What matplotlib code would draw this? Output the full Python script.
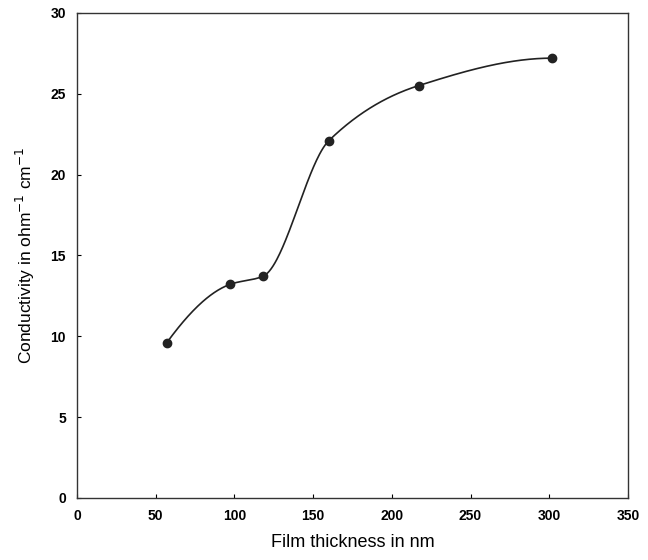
import numpy as np
import matplotlib.pyplot as plt

thickness = [57, 97, 118, 160, 217, 302]
conductivity = [9.6, 13.2, 13.7, 22.1, 25.5, 27.2]


def pchip(x, y, n=400):
    # monotone cubic (Fritsch-Carlson) so the curve does not overshoot
    x = np.asarray(x, float)
    y = np.asarray(y, float)
    h = np.diff(x)
    d = np.diff(y) / h
    m = np.zeros(len(x))
    for i in range(1, len(x) - 1):
        if d[i - 1] * d[i] > 0:
            w1 = 2 * h[i] + h[i - 1]
            w2 = h[i] + 2 * h[i - 1]
            m[i] = (w1 + w2) / (w1 / d[i - 1] + w2 / d[i])
    m[0] = ((2 * h[0] + h[1]) * d[0] - h[0] * d[1]) / (h[0] + h[1])
    m[-1] = ((2 * h[-1] + h[-2]) * d[-1] - h[-1] * d[-2]) / (h[-1] + h[-2])
    if m[0] * d[0] < 0:
        m[0] = 0
    if m[-1] * d[-1] < 0:
        m[-1] = 0
    xs = np.linspace(x[0], x[-1], n)
    ys = np.empty_like(xs)
    for j, xv in enumerate(xs):
        i = min(np.searchsorted(x, xv, side='right') - 1, len(x) - 2)
        t = (xv - x[i]) / h[i]
        h00 = 2 * t ** 3 - 3 * t ** 2 + 1
        h10 = t ** 3 - 2 * t ** 2 + t
        h01 = -2 * t ** 3 + 3 * t ** 2
        h11 = t ** 3 - t ** 2
        ys[j] = h00 * y[i] + h10 * h[i] * m[i] + h01 * y[i + 1] + h11 * h[i] * m[i + 1]
    return xs, ys


plt.rcParams['font.family'] = ['Liberation Sans', 'DejaVu Sans']

fig = plt.figure(figsize=(6.48, 5.6), dpi=100)
ax = fig.add_axes([0.119, 0.111, 0.850, 0.866])

xs, ys = pchip(thickness, conductivity)
ax.plot(xs, ys, color='#222222', lw=1.2)
ax.plot(thickness, conductivity, 'o', color='#222222', ms=6)

ax.set_xlim(0, 350)
ax.set_ylim(0, 30)
ax.set_xticks(range(0, 351, 50))
ax.set_yticks(range(0, 31, 5))
ax.tick_params(direction='in', length=3, labelsize=10, pad=8)
for lab in ax.get_xticklabels() + ax.get_yticklabels():
    lab.set_fontweight('bold')
for s in ax.spines.values():
    s.set_linewidth(1.0)
    s.set_color('#333333')

ax.set_xlabel('Film thickness in nm', fontsize=13, labelpad=8)
ax.set_ylabel('Conductivity in ohm$^{-1}$ cm$^{-1}$', fontsize=12.5, labelpad=10)

fig.savefig('out.png', dpi=100)
